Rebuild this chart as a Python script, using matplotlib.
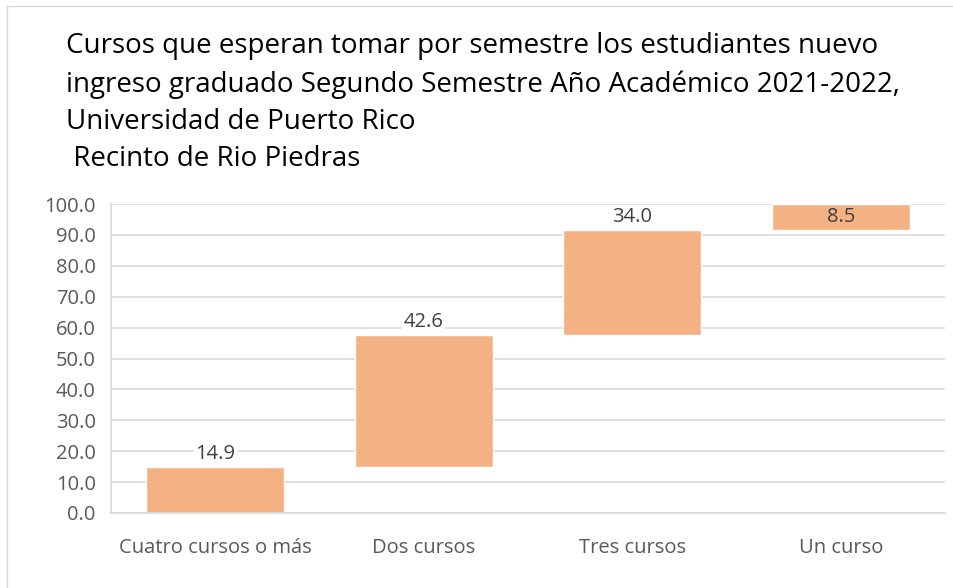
import matplotlib.pyplot as plt
from matplotlib.lines import Line2D

categorias = ['Cuatro cursos o más', 'Dos cursos', 'Tres cursos', 'Un curso']
valores = [14.9, 42.6, 34.0, 8.5]
titulo = ('Cursos que esperan tomar por semestre los estudiantes nuevo\n'
          'ingreso graduado Segundo Semestre Año Académico 2021-2022,\n'
          'Universidad de Puerto Rico\n'
          ' Recinto de Rio Piedras')

# bases acumuladas para la cascada
bases = []
acum = 0.0
for v in valores:
    bases.append(acum)
    acum += v

plt.rcParams['font.family'] = ['Open Sans', 'DejaVu Sans']

fig = plt.figure(figsize=(9.54, 5.88), dpi=100)
ax = fig.add_axes([0.1164, 0.1276, 0.8742, 0.5254])

gris = '#595959'
x = range(len(categorias))
ax.bar(x, valores, bottom=bases, width=0.66, color='#F4B183',
       edgecolor='white', linewidth=1, zorder=2)

for i, (b, v) in enumerate(zip(bases, valores)):
    if b + v >= 99:
        y, va = b + v / 2, 'center'
        bbox = None
    else:
        y, va = b + v + 1.0, 'bottom'
        bbox = dict(facecolor='white', edgecolor='none', pad=1)
    ax.text(i, y, f'{v:.1f}', ha='center', va=va, fontsize=14.5,
            color='#404040', bbox=bbox, zorder=3)

ax.set_xlim(-0.5, len(categorias) - 0.5)
ax.set_ylim(0, 100)
ax.set_yticks(range(0, 101, 10))
ax.set_yticklabels([f'{t:.1f}' for t in range(0, 101, 10)])
ax.set_xticks(list(x))
ax.set_xticklabels(categorias)
ax.tick_params(axis='both', length=0, labelsize=14.5, labelcolor=gris)
ax.tick_params(axis='x', pad=18)
ax.tick_params(axis='y', pad=11)
ax.grid(axis='y', color='#D9D9D9', linewidth=1.2, zorder=0)
ax.set_axisbelow(True)
for s in ['top', 'right']:
    ax.spines[s].set_visible(False)
ax.spines['bottom'].set_color('#D9D9D9')
ax.spines['left'].set_color('#D9D9D9')
ax.spines['bottom'].set_linewidth(1.2)
ax.spines['left'].set_linewidth(1.2)

fig.text(0.069, 0.945, titulo, ha='left', va='top', fontsize=20,
         color='black', linespacing=1.45)

# borde del area del grafico (solo arriba e izquierda)
fig.add_artist(Line2D([7 / 954, 1], [1 - 6 / 588] * 2, transform=fig.transFigure,
                      color='#D9D9D9', linewidth=1))
fig.add_artist(Line2D([7 / 954] * 2, [0, 1 - 6 / 588], transform=fig.transFigure,
                      color='#D9D9D9', linewidth=1))

fig.savefig('out.png', dpi=100)
